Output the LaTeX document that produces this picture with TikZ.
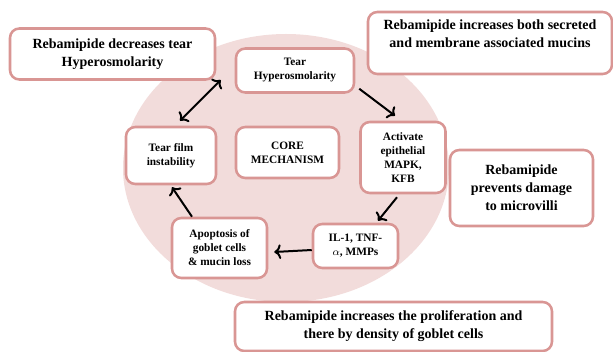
\documentclass[tikz,border=0pt]{standalone}
\usepackage{fontspec}
\setmainfont{Liberation Serif}
\usetikzlibrary{arrows.meta}
\definecolor{rimpink}{HTML}{D99694}
\definecolor{softpink}{HTML}{F2DCDB}

\begin{document}
\begin{tikzpicture}[
    x=0.75pt, y=-0.75pt,
    step box/.style={draw=rimpink, line width=1.9pt, fill=white,
        rounded corners=7pt, align=center, inner sep=2pt,
        font=\fontsize{8.5}{10.5}\selectfont\bfseries},
    note box/.style={step box, font=\fontsize{10.5}{13.5}\selectfont\bfseries},
    link/.style={line width=1.5pt, -{To[length=5pt, width=11pt]}}
]
    \useasboundingbox (0,0) rectangle (613,352);
    \clip (0,0) rectangle (613,352);
    \fill[softpink] (286,168) ellipse [x radius=163, y radius=134];

    \node[note box, minimum width=153.75pt, minimum height=38.25pt] (decr) at (112.5,54)
        {Rebamipide decreases tear\\Hyperosmolarity};
    \node[note box, minimum width=183pt, minimum height=46.5pt] (mucins) at (490,43)
        {Rebamipide increases both secreted\\and membrane associated mucins\\[1pt]};
    \node[note box, minimum width=107.25pt, minimum height=57pt] (villi) at (521.5,188)
        {Rebamipide\\prevents damage\\to microvilli};
    \node[note box, minimum width=237.75pt, minimum height=36.75pt] (prolif) at (393.5,326.5)
        {Rebamipide increases the proliferation and\\there by density of goblet cells};

    \node[step box, minimum width=88.5pt, minimum height=33pt] (hyper) at (295,70.5)
        {Tear\\Hyperosmolarity};
    \node[step box, minimum width=67.5pt, minimum height=42.75pt] (film) at (171,155.5)
        {Tear film\\instability};
    \node[step box, minimum width=77.25pt, minimum height=38.25pt] (core) at (287.5,152.5)
        {CORE\\MECHANISM};
    \node[step box, minimum width=63.75pt, minimum height=53.25pt] (mapk) at (403,157.5)
        {Activate\\epithelial\\MAPK,\\KFB};
    \node[step box, minimum width=63.75pt, minimum height=33pt] (cyto) at (355.5,246)
        {IL-1, TNF-\\$\alpha$, MMPs};
    \node[step box, minimum width=71.25pt, minimum height=45pt] (apop) at (219.5,248)
        {Apoptosis of\\goblet cells\\\& mucin loss};

    \draw[link, {To[length=5pt, width=11pt]}-{To[length=5pt, width=11pt]}]
        ([shift={(9,-5)}]film.north) -- ([shift={(-14,9.5)}]hyper.west);
    \draw[link] ([shift={(4,-5)}]hyper.south east) -- ([shift={(-8,-5)}]mapk.north);
    \draw[link] ([shift={(-6,3)}]mapk.south) -- ([shift={(22.5,-2)}]cyto.north);
    \draw[link] ([shift={(0,4)}]cyto.west) -- ([shift={(6,4)}]apop.east);
    \draw[link] ([shift={(-27.5,0)}]apop.north) -- ([shift={(1,2)}]film.south);
\end{tikzpicture}
\end{document}
